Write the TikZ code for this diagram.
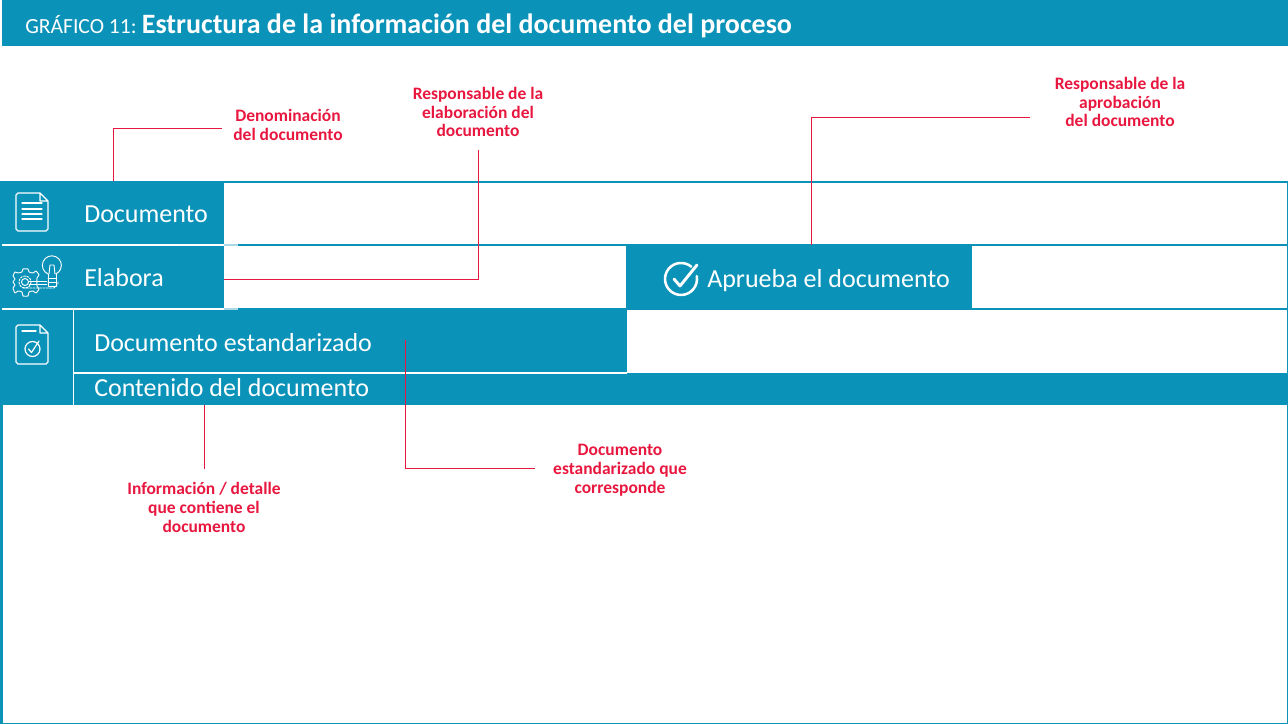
\documentclass[tikz,border=0pt]{standalone}
\usepackage{fontspec}
\setmainfont{Carlito}
\usetikzlibrary{calc}
\definecolor{teal1}{HTML}{0B92B8}
\definecolor{red1}{HTML}{E8173F}
\tikzstyle{band} = [
    rectangle,
    fill=teal1,
    inner sep=0pt
]
\tikzstyle{rowtext} = [
    text=white,
    anchor=base west,
    inner sep=0pt,
    font=\fontsize{19.5}{22}\selectfont
]
\tikzstyle{note} = [
    text=red1,
    align=center,
    inner sep=0pt,
    font=\fontsize{13.1}{14.2}\selectfont\bfseries
]
\tikzstyle{link} = [red1, line width=0.6pt]
\tikzstyle{icon} = [white, line width=0.9pt, line join=round, line cap=round]
\tikzstyle{rule} = [teal1, line width=0.8pt]
\begin{document}
\begin{tikzpicture}[x=0.75pt, y=-0.75pt]
    \useasboundingbox (0,0) rectangle (1288,724);

    \path[band] (2,0) rectangle (1288,46);
    \node (title) [anchor=base west, text=white, inner sep=0pt] at (25,34)
        {\fontsize{16.2}{18}\selectfont GRÁFICO 11: \fontsize{21}{22}\selectfont\bfseries\hspace{-1pt}Estructura de la información del documento del proceso};

    % table
    \draw[rule, line width=1.5pt] (1.5,181.5) rectangle (1287.5,723.5);
    \draw[rule] (1,245) -- (1288,245);
    \draw[rule] (1,309) -- (1288,309);
    \path[band] (1,181) rectangle (224,245);
    \path[band] (1,245) rectangle (224,309);
    \path[band] (626,245) rectangle (972,309);
    \path[band] (1,309) rectangle (73,405);
    \path[band] (73,309) rectangle (627,373);
    \path[band] (73,373) rectangle (1288,405);
    \draw[white, line width=0.8pt] (2,245) -- (224,245);
    \draw[white, line width=0.8pt] (2,309) -- (224,309);
    \draw[teal1!35, line width=0.8pt] (224,245) -- (238,245);
    \draw[teal1!35, line width=0.8pt] (224,309) -- (238,309);
    \draw[white, line width=0.8pt] (73.5,309) -- (73.5,405);
    \draw[white, line width=0.8pt] (73,373) -- (627,373);

    \node (documento) [rowtext] at (84,222.5) {Documento};
    \node (elabora) [rowtext] at (84,286) {Elabora};
    \node (aprueba) [rowtext] at (707,287) {Aprueba el documento};
    \node (estandar) [rowtext] at (94,351) {Documento estandarizado};
    \node (contenido) [rowtext] at (94,396) {Contenido del documento};

    % icons
    \draw[icon] (40,193) -- (18,193) -- (16,195) -- (16,229) -- (18,231) -- (46,231) -- (48,229) -- (48,201) -- (40,193) -- (40,201) -- (48,201);
    \foreach \y in {203,209,214,219}
        \draw[icon] (22,\y) -- (42,\y);

    \draw[icon] (40,325) -- (18,325) -- (16,327) -- (16,362) -- (18,364) -- (46,364) -- (48,362) -- (48,333) -- (40,325) -- (40,333) -- (48,333);
    \draw[icon] (22,331) -- (36,331);
    \draw[icon] (32.5,349) circle (7.5);
    \draw[icon] (28.5,349) -- (31.5,352.5) -- (39,341);

    \draw[icon, line width=0.7pt] (25,282) circle (3.5);
    \draw[icon, line width=0.7pt, dash pattern=on 1.5pt off 1pt] (25,282) circle (6);
    \draw[icon, line width=0.7pt] plot[smooth cycle, tension=0.3] coordinates {
        (23,269) (28,269) (29,272) (33,273) (36,271) (39,275) (37,278) (37,286) (39,289) (36,293)
        (33,291) (29,292) (28,296) (23,296) (22,292) (18,291) (15,293) (13,288) (15,285) (13,282) (15,279) (13,276) (15,272) (18,273) (22,272)};
    \draw[icon, line width=0.7pt] (29,281) -- (47,281);
    \draw[icon, line width=0.7pt] (29,284) -- (47,284);
    \draw[icon, line width=0.7pt, dash pattern=on 1.5pt off 1pt] (23,288) -- (54,288) -- (58,284) -- (58,281);
    \draw[icon, line width=0.7pt] (48,274) arc[start angle=114, end angle=426, radius=9.5];
    \draw[icon, line width=0.7pt] (48,274) -- (48,286) -- (56,286) -- (56,274);
    \draw[icon, line width=0.7pt] (49,274) -- (50,265) -- (54,265) -- (55,274);
    \draw[icon, line width=0.7pt] (48,278) -- (56,278);
    \draw[icon, line width=0.7pt] (48,282) -- (56,282);

    \draw[icon, line width=1.9pt] (691.3,266.7) arc[start angle=-50, end angle=-370, radius=16];
    \draw[icon, line width=2.2pt] (674,279) -- (680,286) -- (697,265);

    % notes
    \node (denominacion) [note] at (288,125) {Denominación\\del documento};
    \node (elaboracion) [note] at (478,112) {Responsable de la\\elaboración del\\documento};
    \node (aprobacion) [note] at (1120,102) {Responsable de la\\aprobación\\del documento};
    \node (correspondencia) [note] at (620,470) {Documento\\estandarizado que\\corresponde};
    \node (detalle) [note] at (204,507) {Información / detalle\\que contiene el\\documento};

    \coordinate (a1) at (113,181);
    \coordinate (a2) at (222,128);
    \coordinate (b1) at (224,279);
    \coordinate (b2) at (478,150);
    \coordinate (c1) at (811,245);
    \coordinate (c2) at (1030,117);
    \coordinate (d1) at (405,340);
    \coordinate (d2) at (535,468);
    \coordinate (e1) at (204,405);
    \coordinate (e2) at (204,469);

    \draw[link] (a1) |- (a2);
    \draw[link] (b1) -| (b2);
    \draw[link] (c1) |- (c2);
    \draw[link] (d1) |- (d2);
    \draw[link] (e1) -- (e2);
\end{tikzpicture}
\end{document}
